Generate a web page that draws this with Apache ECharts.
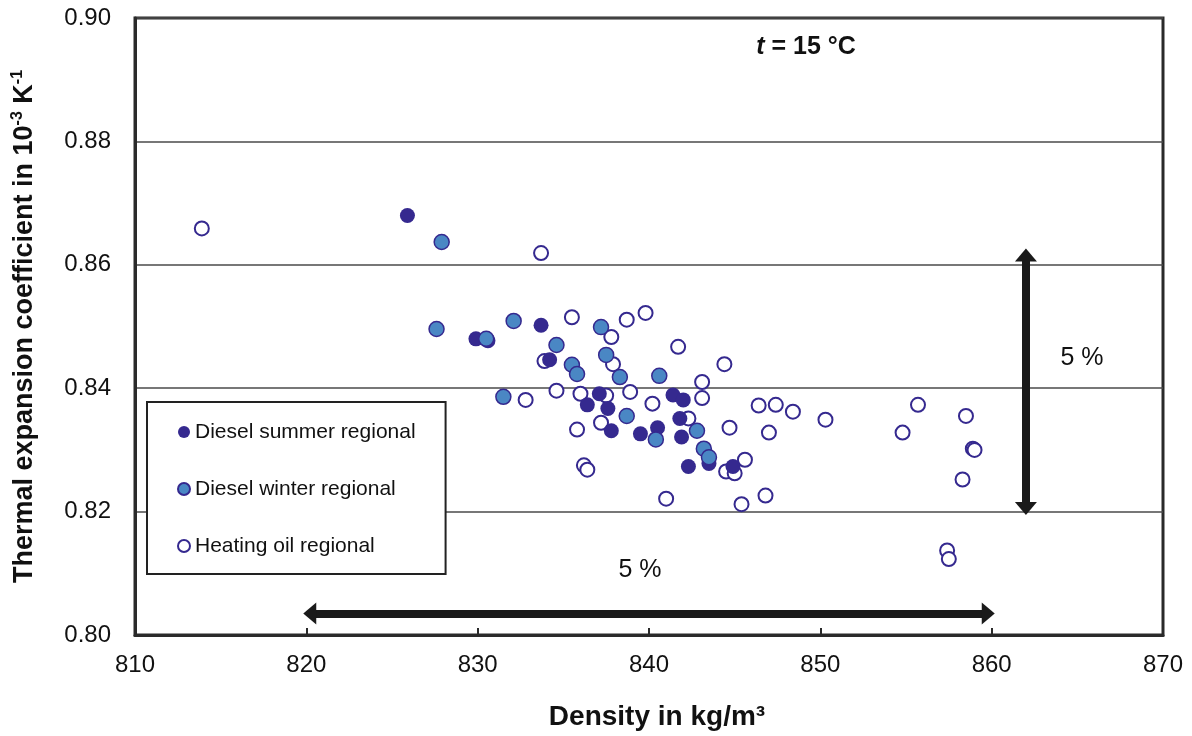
<!DOCTYPE html>
<html>
<head>
<meta charset="utf-8">
<script src="https://cdn.jsdelivr.net/npm/echarts@6/dist/echarts.min.js"></script>
<style>
html,body{margin:0;padding:0;background:#fff;}
#chart{width:1192px;height:736px;}
</style>
</head>
<body>
<div id="chart"></div>
<script>
// ---- data ----
const seriesNames = ['Diesel summer regional', 'Diesel winter regional', 'Heating oil regional'];
const xTicks = [810, 820, 830, 840, 850, 860, 870];
const yTicks = [0.80, 0.82, 0.84, 0.86, 0.88, 0.90];

const dieselSummer = [
  [825.9, 0.8680], [829.9, 0.8480], [830.6, 0.8477], [833.7, 0.8502], [834.2, 0.8446],
  [837.1, 0.8391], [836.4, 0.8373], [837.6, 0.8367], [837.8, 0.8331], [839.5, 0.8326],
  [840.5, 0.8336], [841.4, 0.8389], [842.0, 0.8381], [841.8, 0.8351], [841.9, 0.8321],
  [842.3, 0.8273], [843.5, 0.8278], [844.9, 0.8273]
];
const dieselWinter = [
  [827.9, 0.8637], [827.6, 0.8496], [830.5, 0.8480], [832.1, 0.8509], [831.5, 0.8386],
  [834.6, 0.8470], [835.5, 0.8438], [835.8, 0.8423], [837.2, 0.8499], [837.5, 0.8454],
  [838.3, 0.8418], [840.6, 0.8420], [838.7, 0.8355], [840.4, 0.8317], [842.8, 0.8331],
  [843.2, 0.8302], [843.5, 0.8288]
];
const heatingOil = [
  [813.9, 0.8659], [833.7, 0.8619], [835.5, 0.8515], [838.7, 0.8511], [839.8, 0.8522],
  [837.8, 0.8483], [837.9, 0.8439], [833.9, 0.8444], [841.7, 0.8467], [844.4, 0.8439],
  [843.1, 0.8410], [843.1, 0.8384], [834.6, 0.8396], [832.8, 0.8381], [836.0, 0.8391],
  [837.5, 0.8388], [838.9, 0.8394], [840.2, 0.8375], [837.2, 0.8344], [835.8, 0.8333],
  [842.3, 0.8351], [844.7, 0.8336], [836.2, 0.8275], [836.4, 0.8268], [841.0, 0.8221],
  [844.5, 0.8265], [845.0, 0.8262], [845.6, 0.8284], [845.4, 0.8212], [846.8, 0.8226],
  [847.0, 0.8328], [846.4, 0.8372], [847.4, 0.8373], [848.4, 0.8362], [850.3, 0.8349],
  [855.7, 0.8373], [854.8, 0.8328], [858.5, 0.8355], [858.9, 0.8302], [859.0, 0.8300],
  [858.3, 0.8252], [857.4, 0.8137], [857.5, 0.8123]
];
// 5 % range arrows (data coordinates of the arrow shaft ends)
const hArrow = [[820.2, 0.8035], [859.8, 0.8035]];
const vArrow = [[862, 0.8205], [862, 0.8616]];
const annotations = { temp: 't = 15 °C', pct: '5 %' };

// ---- chart ----
const FONT = '"Liberation Sans", Arial, sans-serif';
const INK = '#35298f';
const chart = echarts.init(document.getElementById('chart'), null, { renderer: 'canvas' });

const option = {
  backgroundColor: '#fff',
  animation: false,
  textStyle: { fontFamily: FONT },
  grid: {
    left: 135, right: 29, top: 18, bottom: 99,
    show: true, borderColor: '#2a2a2a', borderWidth: 3, backgroundColor: '#fff'
  },
  xAxis: {
    type: 'value', min: xTicks[0], max: xTicks[xTicks.length - 1], interval: 10,
    name: 'Density in kg/m³', nameLocation: 'middle', nameGap: 68,
    nameTextStyle: { fontSize: 28, fontWeight: 'bold', color: '#111', fontFamily: FONT,
      padding: [0, 0, 0, 16] },
    axisLine: { show: true, lineStyle: { color: '#2a2a2a', width: 3 } },
    axisTick: { show: true, inside: true, length: 7, lineStyle: { color: '#2a2a2a', width: 2 } },
    axisLabel: { fontSize: 24, color: '#111', margin: 18, fontFamily: FONT },
    splitLine: { show: false }
  },
  yAxis: {
    type: 'value', min: yTicks[0], max: yTicks[yTicks.length - 1], interval: 0.02,
    name: '{a|Thermal expansion coefficient in 10}{s|-3}{a| K}{s|-1}',
    nameLocation: 'middle', nameGap: 95,
    nameTextStyle: {
      fontFamily: FONT,
      rich: {
        a: { fontSize: 27, fontWeight: 'bold', color: '#111', fontFamily: FONT, lineHeight: 30 },
        s: { fontSize: 16, fontWeight: 'bold', color: '#111', fontFamily: FONT, verticalAlign: 'top', lineHeight: 30 }
      }
    },
    axisLine: { show: true, lineStyle: { color: '#2a2a2a', width: 3 } },
    axisTick: { show: false },
    axisLabel: { fontSize: 24, color: '#111', margin: 24, fontFamily: FONT,
      formatter: v => v.toFixed(2) },
    splitLine: { show: true, lineStyle: { color: '#4a4a4a', width: 1.5 } }
  },
  legend: {
    orient: 'vertical', left: 147, top: 402,
    data: seriesNames,
    backgroundColor: '#fff', borderColor: '#222', borderWidth: 2,
    padding: [18, 30, 16, 30],
    itemWidth: 12, itemHeight: 12, itemGap: 33,
    textStyle: { fontSize: 21, color: '#111', fontFamily: FONT, lineHeight: 24 }
  },
  series: [
    {
      name: seriesNames[2], type: 'scatter', symbol: 'circle', symbolSize: 14, z: 2,
      itemStyle: { color: '#fff', borderColor: INK, borderWidth: 2, opacity: 1 },
      data: heatingOil,
      markLine: {
        silent: true, symbol: ['triangle', 'triangle'], symbolSize: [22, 13],
        label: { show: false },
        itemStyle: { color: '#1a1a1a' },
        lineStyle: { color: '#1a1a1a', width: 8, type: 'solid', opacity: 1 },
        data: [
          [{ coord: hArrow[0] }, { coord: hArrow[1] }],
          [{ coord: vArrow[0] }, { coord: vArrow[1] }]
        ]
      }
    },
    {
      name: seriesNames[0], type: 'scatter', symbol: 'circle', symbolSize: 15, z: 3,
      itemStyle: { color: INK, borderColor: INK, borderWidth: 0, opacity: 1 },
      data: dieselSummer
    },
    {
      name: seriesNames[1], type: 'scatter', symbol: 'circle', symbolSize: 15, z: 4,
      itemStyle: { color: '#4a87c4', borderColor: INK, borderWidth: 1.5, opacity: 1 },
      data: dieselWinter
    }
  ],
  graphic: [
    {
      type: 'text', x: 806, y: 47, z: 10,
      style: {
        text: '{i|t}{b|' + annotations.temp.slice(1) + '}',
        align: 'center', verticalAlign: 'middle',
        rich: {
          i: { fontSize: 25, fontWeight: 'bold', fontStyle: 'italic', fill: '#111', fontFamily: FONT },
          b: { fontSize: 25, fontWeight: 'bold', fill: '#111', fontFamily: FONT }
        }
      }
    },
    {
      type: 'text', x: 1082, y: 358, z: 10,
      style: { text: annotations.pct, align: 'center', verticalAlign: 'middle',
        font: '25px ' + FONT, fill: '#111' }
    },
    {
      type: 'text', x: 640, y: 570, z: 10,
      style: { text: annotations.pct, align: 'center', verticalAlign: 'middle',
        font: '25px ' + FONT, fill: '#111' }
    }
  ]
};
chart.setOption(option);
</script>
</body>
</html>
